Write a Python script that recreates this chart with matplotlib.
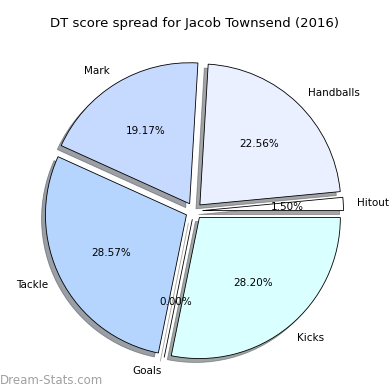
import matplotlib.pyplot as plt

# DT points per stat for the season
labels = ['Hitout', 'Handballs', 'Mark', 'Tackle', 'Goals', 'Kicks']
points = [4, 60, 51, 76, 0, 75]
colours = ['#ffffff', '#eaf0ff', '#c6d9ff', '#b5d5ff', '#ffffff', '#d9ffff']

fig = plt.figure(figsize=(3.9, 3.9), dpi=100)
ax = fig.add_axes([0, 0, 1, 1])

ax.pie(points, labels=labels, colors=colours, autopct='%1.2f%%',
       explode=[0.06] * len(points), shadow=True, startangle=0,
       wedgeprops={'edgecolor': 'black', 'linewidth': 0.6},
       textprops={'fontsize': 7.5})

# place the pie like the original image
scale = 141.0
cx, cy = 194, 211
ax.set_xlim(-cx / scale, (390 - cx) / scale)
ax.set_ylim(-(390 - cy) / scale, cy / scale)
ax.set_aspect('equal')
ax.axis('off')

fig.text(0.5, 1 - 24 / 390, 'DT score spread for Jacob Townsend (2016)',
         ha='center', va='center', fontsize=9.5)
fig.text(0.0, 1 - 380 / 390, 'Dream-Stats.com', ha='left', va='center',
         fontsize=8.5, color='#a0a0a0')

fig.savefig('out.png', dpi=100)
